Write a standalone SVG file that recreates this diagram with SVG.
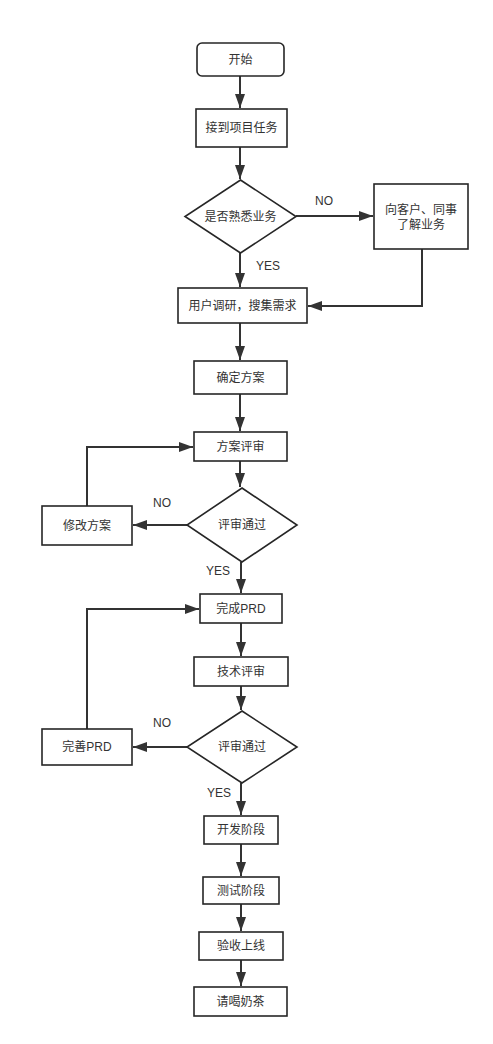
<svg xmlns="http://www.w3.org/2000/svg" width="493" height="1044" viewBox="0 0 493 1044">
<style>
.n{fill:#fff;stroke:#262626;stroke-width:1.6}
.t{font-family:"Liberation Sans","Noto Sans CJK SC",sans-serif;font-size:12px;fill:#333;text-anchor:middle;dominant-baseline:central}
.c{fill:none;stroke:#333;stroke-width:2}
.l{font-family:"Liberation Sans","Noto Sans CJK SC",sans-serif;font-size:12px;fill:#333;text-anchor:middle;dominant-baseline:central}
</style>
<defs>
<marker id="a" viewBox="0 0 14 10" refX="14" refY="5" markerWidth="7" markerHeight="5" orient="auto" markerUnits="strokeWidth">
<path d="M0,0L14,5L0,10z" fill="#333"/>
</marker>
</defs>
<rect width="493" height="1044" fill="#fff"/>
<g id="connectors">
<path class="c" d="M240,76V108" marker-end="url(#a)"/>
<path class="c" d="M240,147V179" marker-end="url(#a)"/>
<path class="c" d="M296,216H373" marker-end="url(#a)"/>
<path class="c" d="M240,253V287" marker-end="url(#a)"/>
<path class="c" d="M422,249V306H308" marker-end="url(#a)"/>
<path class="c" d="M240,323V360" marker-end="url(#a)"/>
<path class="c" d="M240,394V431" marker-end="url(#a)"/>
<path class="c" d="M240,461V487" marker-end="url(#a)"/>
<path class="c" d="M187,525H133" marker-end="url(#a)"/>
<path class="c" d="M87,506V447H193" marker-end="url(#a)"/>
<path class="c" d="M241,562V593" marker-end="url(#a)"/>
<path class="c" d="M241,623V656" marker-end="url(#a)"/>
<path class="c" d="M241,686V710" marker-end="url(#a)"/>
<path class="c" d="M187,747H133" marker-end="url(#a)"/>
<path class="c" d="M87,729V609H199" marker-end="url(#a)"/>
<path class="c" d="M241,783V815" marker-end="url(#a)"/>
<path class="c" d="M241,844V876" marker-end="url(#a)"/>
<path class="c" d="M241,904V931" marker-end="url(#a)"/>
<path class="c" d="M241,960V986" marker-end="url(#a)"/>
<text class="l" x="324" y="201">NO</text>
<text class="l" x="268" y="266">YES</text>
<text class="l" x="162" y="503">NO</text>
<text class="l" x="218" y="571">YES</text>
<text class="l" x="162" y="723">NO</text>
<text class="l" x="219" y="793">YES</text>
</g>
<g id="start"><rect class="n" x="197" y="43" width="87" height="33" rx="5"/><text class="t" x="240.5" y="59.5">开始</text></g>
<g id="task"><rect class="n" x="196" y="109" width="91" height="38"/><text class="t" x="241.5" y="128">接到项目任务</text></g>
<g id="familiar"><path class="n" d="M240.5,180L296,216.5L240.5,253L185,216.5z"/><text class="t" x="240.5" y="216.5">是否熟悉业务</text></g>
<g id="learn"><rect class="n" x="374" y="184" width="94" height="65"/><text class="t" x="421" y="210">向客户、同事</text><text class="t" x="421" y="225">了解业务</text></g>
<g id="research"><rect class="n" x="178" y="288" width="129" height="35"/><text class="t" x="242.5" y="305.5">用户调研，搜集需求</text></g>
<g id="plan"><rect class="n" x="194" y="361" width="93" height="33"/><text class="t" x="240.5" y="377.5">确定方案</text></g>
<g id="review1"><rect class="n" x="194" y="432" width="93" height="29"/><text class="t" x="240.5" y="446.5">方案评审</text></g>
<g id="pass1"><path class="n" d="M242,488L297,525L242,562L187,525z"/><text class="t" x="242" y="525">评审通过</text></g>
<g id="modify"><rect class="n" x="42" y="506" width="90" height="39"/><text class="t" x="87" y="525.5">修改方案</text></g>
<g id="prd"><rect class="n" x="200" y="594" width="82" height="29"/><text class="t" x="241" y="608.5">完成PRD</text></g>
<g id="techreview"><rect class="n" x="194" y="657" width="94" height="29"/><text class="t" x="241" y="671.5">技术评审</text></g>
<g id="pass2"><path class="n" d="M242,711L297,747L242,783L187,747z"/><text class="t" x="242" y="747">评审通过</text></g>
<g id="improve"><rect class="n" x="42" y="729" width="90" height="36"/><text class="t" x="87" y="747">完善PRD</text></g>
<g id="dev"><rect class="n" x="204" y="816" width="74" height="28"/><text class="t" x="241" y="830">开发阶段</text></g>
<g id="test"><rect class="n" x="203" y="877" width="76" height="27"/><text class="t" x="241" y="890.5">测试阶段</text></g>
<g id="accept"><rect class="n" x="199" y="932" width="84" height="28"/><text class="t" x="241" y="946">验收上线</text></g>
<g id="tea"><rect class="n" x="194" y="987" width="93" height="29"/><text class="t" x="240.5" y="1001.5">请喝奶茶</text></g>
</svg>
